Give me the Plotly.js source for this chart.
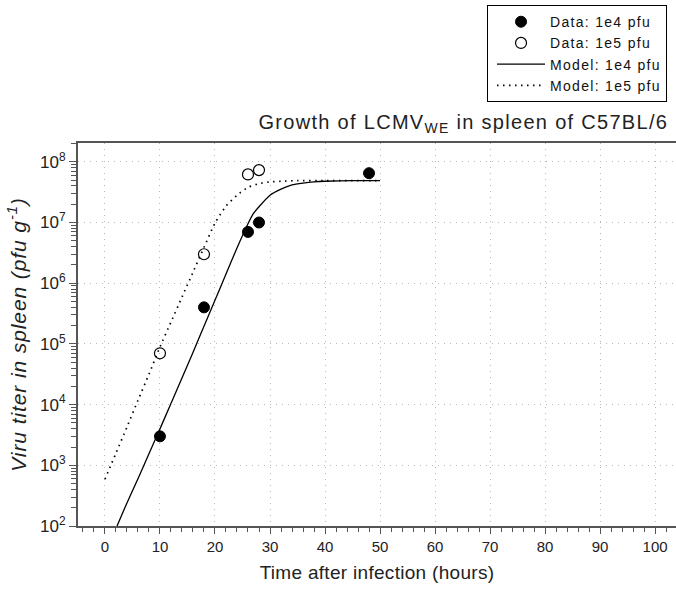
<!DOCTYPE html>
<html>
<head>
<meta charset="utf-8">
<script src="https://cdn.plot.ly/plotly-3.0.1.min.js"></script>
<style>
html,body{margin:0;padding:0;background:#fff;}
#chart{width:676px;height:591px;}
.gtitle{letter-spacing:1.3px;}
.xtitle{letter-spacing:0.3px;}
.ytitle{letter-spacing:0.9px;}
.legendtext{letter-spacing:1.3px;}
</style>
</head>
<body>
<div id="chart"></div>
<script>
// Data points (hours, titer pfu/g)
const dataHours1e4 = [10, 18, 26, 28, 48];
const dataTiter1e4 = [3.0e3, 4.0e5, 7.0e6, 1.0e7, 6.5e7];
const dataHours1e5 = [10, 18, 26, 28];
const dataTiter1e5 = [7.0e4, 3.0e6, 6.2e7, 7.3e7];

// Model curves (hours, log10 titer)
const modelHours1e4 = [2.2, 4, 6, 8, 10, 12, 14, 16, 18, 20, 22, 24, 26, 27, 28, 30, 32, 34, 36, 38, 40, 45, 50];
const modelLog1e4   = [2.0, 2.38, 2.78, 3.19, 3.6, 4.02, 4.44, 4.86, 5.29, 5.72, 6.15, 6.58, 6.98, 7.15, 7.26, 7.45, 7.55, 7.62, 7.65, 7.67, 7.68, 7.69, 7.69];
const modelHours1e5 = [0, 2, 4, 6, 8, 10, 12, 14, 16, 18, 20, 22, 24, 26, 28, 30, 32, 35, 40, 50];
const modelLog1e5   = [2.77, 3.2, 3.63, 4.07, 4.5, 4.95, 5.36, 5.77, 6.18, 6.59, 6.99, 7.27, 7.45, 7.58, 7.64, 7.67, 7.68, 7.69, 7.69, 7.69];

const yTickVals = [1e2, 1e3, 1e4, 1e5, 1e6, 1e7, 1e8];
const yTickText = ['10<sup>2</sup>', '10<sup>3</sup>', '10<sup>4</sup>', '10<sup>5</sup>', '10<sup>6</sup>', '10<sup>7</sup>', '10<sup>8</sup>'];
const xTickVals = [0, 10, 20, 30, 40, 50, 60, 70, 80, 90, 100];

const pow10 = a => a.map(v => Math.pow(10, v));

const traces = [
  {x: dataHours1e4, y: dataTiter1e4, name: 'Data: 1e4 pfu', mode: 'markers', type: 'scatter',
   marker: {symbol: 'circle', size: 11, color: '#000', line: {color: '#000', width: 1}}, cliponaxis: false},
  {x: dataHours1e5, y: dataTiter1e5, name: 'Data: 1e5 pfu', mode: 'markers', type: 'scatter',
   marker: {symbol: 'circle-open', size: 11, color: '#000', line: {color: '#000', width: 1.2}}, cliponaxis: false},
  {x: modelHours1e4, y: pow10(modelLog1e4), name: 'Model: 1e4 pfu', mode: 'lines', type: 'scatter',
   line: {color: '#000', width: 1.3, shape: 'spline', smoothing: 0.6}},
  {x: modelHours1e5, y: pow10(modelLog1e5), name: 'Model: 1e5 pfu', mode: 'lines', type: 'scatter',
   line: {color: '#000', width: 1.7, dash: '1.5px,4.5px', shape: 'spline', smoothing: 0.6}}
];

const layout = {
  width: 676, height: 591,
  margin: {l: 78, r: 0, t: 143, b: 65},
  paper_bgcolor: '#fff', plot_bgcolor: '#fff',
  font: {family: 'Liberation Sans, Arial, sans-serif', color: '#222', size: 14},
  title: {text: 'Growth of LCMV<sub>WE</sub> in spleen of C57BL/6', x: 0.987, xanchor: 'right',
          xref: 'paper', y: 0.794, yref: 'container', yanchor: 'middle',
          font: {size: 20, color: '#222'}},
  showlegend: true,
  legend: {x: 0.684, xanchor: 'left', y: 1.36, yanchor: 'top', bordercolor: '#000', borderwidth: 1,
           bgcolor: '#fff', font: {size: 14, color: '#111'}, tracegroupgap: 0, itemwidth: 48, indentation: 4},
  xaxis: {range: [-4.9, 103.8], tickvals: xTickVals, ticks: 'outside', ticklen: 6, tickwidth: 1, tickcolor: '#555',
          showline: true, linecolor: '#555', linewidth: 2, mirror: true, zeroline: false,
          showgrid: true, gridcolor: '#b8b8b8', griddash: '1px,5px', gridwidth: 1,
          minor: {dtick: 2, ticks: 'outside', ticklen: 4, tickcolor: '#555', showgrid: false},
          tickfont: {size: 15, color: '#222'},
          title: {text: 'Time after infection (hours)', font: {size: 19, color: '#222'}, standoff: 12}},
  yaxis: {type: 'log', range: [2, 8.31], tickvals: yTickVals, ticktext: yTickText, ticks: 'outside', ticklen: 7,
          tickwidth: 1, tickcolor: '#555', showline: true, linecolor: '#555', linewidth: 2, mirror: false, zeroline: false,
          showgrid: true, gridcolor: '#b8b8b8', griddash: '1px,5px', gridwidth: 1,
          minor: {dtick: 'D1', ticks: 'outside', ticklen: 5, tickcolor: '#555', showgrid: false},
          tickfont: {size: 17, color: '#222'},
          title: {text: '<i>Viru titer in spleen (pfu g<sup>-1</sup>)</i>', font: {size: 21, color: '#222'}, standoff: 8}}
};

Plotly.newPlot('chart', traces, layout, {displayModeBar: false, responsive: false});
</script>
</body>
</html>
